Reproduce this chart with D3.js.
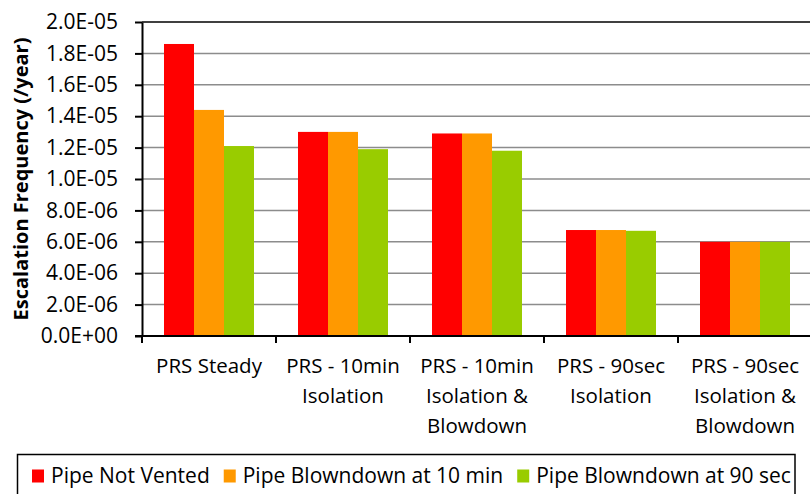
<!DOCTYPE html>
<html>
<head>
<meta charset="utf-8">
<script src="https://cdn.jsdelivr.net/npm/d3@7"></script>
<style>
  html, body { margin: 0; padding: 0; background: #fff; }
  svg { display: block; font-family: "Open Sans", sans-serif; }
</style>
</head>
<body>
<svg id="chart" width="810" height="494"></svg>
<script>
// Escalation frequency per scenario, three pipe venting cases
const categories = [
  ["PRS Steady"],
  ["PRS - 10min", "Isolation"],
  ["PRS - 10min", "Isolation &", "Blowdown"],
  ["PRS - 90sec", "Isolation"],
  ["PRS - 90sec", "Isolation &", "Blowdown"]
];
const seriesNames = ["Pipe Not Vented", "Pipe Blowndown at 10 min", "Pipe Blowndown at 90 sec"];
const notVented    = [1.86e-5, 1.30e-5, 1.29e-5, 6.75e-6, 6.0e-6];
const blowdown10m  = [1.44e-5, 1.30e-5, 1.29e-5, 6.75e-6, 6.0e-6];
const blowdown90s  = [1.21e-5, 1.19e-5, 1.18e-5, 6.70e-6, 6.0e-6];
const yTicks = [0, 2e-6, 4e-6, 6e-6, 8e-6, 1e-5, 1.2e-5, 1.4e-5, 1.6e-5, 1.8e-5, 2e-5];
const yTitle = "Escalation Frequency (/year)";
const colors = ["#ff0000", "#ff9900", "#99cc00"];

const seriesValues = [notVented, blowdown10m, blowdown90s];
const catKeys = categories.map(c => c.join(" "));

const svg = d3.select("#chart");
const plot = { left: 142, right: 812, top: 22, bottom: 336 };

const x0 = d3.scaleBand().domain(catKeys).range([plot.left, plot.right]).padding(0);
const groupWidth = 90;
const x1 = d3.scaleBand().domain(d3.range(seriesNames.length)).range([0, groupWidth]).padding(0);
const groupOffset = (x0.bandwidth() - groupWidth) / 2;
const y = d3.scaleLinear().domain([0, 2e-5]).range([plot.bottom, plot.top]);

// "2.0E-05" style labels
const expFmt = v => {
  const [m, e] = v.toExponential(1).split("e");
  const sign = e[0] === "-" ? "-" : "+";
  const digits = String(Math.abs(+e)).padStart(2, "0");
  return m + "E" + sign + digits;
};

// horizontal gridlines
svg.append("g")
  .selectAll("line")
  .data(yTicks.filter(t => t > 0 && t < 2e-5))
  .join("line")
  .attr("x1", plot.left).attr("x2", plot.right)
  .attr("y1", d => y(d)).attr("y2", d => y(d))
  .attr("stroke", "#8c8c8c").attr("stroke-width", 1.5);

// top border of the plot area
svg.append("line")
  .attr("x1", plot.left).attr("x2", plot.right)
  .attr("y1", y(2e-5)).attr("y2", y(2e-5))
  .attr("stroke", "#000").attr("stroke-width", 1.5);

// bars
const groups = svg.append("g")
  .selectAll("g")
  .data(catKeys)
  .join("g")
  .attr("transform", d => `translate(${x0(d) + groupOffset},0)`);

groups.selectAll("rect")
  .data((d, i) => seriesValues.map((s, j) => ({ j, v: s[i] })))
  .join("rect")
  .attr("x", d => x1(d.j))
  .attr("width", x1.bandwidth())
  .attr("y", d => y(d.v))
  .attr("height", d => y(0) - y(d.v))
  .attr("fill", d => colors[d.j]);

// y axis
const yAxis = svg.append("g")
  .attr("transform", `translate(${plot.left},0)`)
  .call(d3.axisLeft(y).tickValues(yTicks).tickFormat(expFmt).tickSizeInner(7).tickSizeOuter(0).tickPadding(17));
yAxis.select(".domain").attr("stroke", "#000").attr("stroke-width", 2);
yAxis.selectAll(".tick line").attr("stroke", "#000").attr("stroke-width", 2);
yAxis.selectAll(".tick text")
  .attr("font-family", "Open Sans, sans-serif")
  .attr("font-size", 21)
  .attr("fill", "#000");

// x axis baseline and category boundary ticks
const bounds = catKeys.map(k => x0(k)).concat([plot.right]);
svg.append("line")
  .attr("x1", plot.left - 7).attr("x2", plot.right)
  .attr("y1", plot.bottom).attr("y2", plot.bottom)
  .attr("stroke", "#000").attr("stroke-width", 2);
svg.append("g")
  .selectAll("line")
  .data(bounds)
  .join("line")
  .attr("x1", d => d).attr("x2", d => d)
  .attr("y1", plot.bottom).attr("y2", plot.bottom + 7)
  .attr("stroke", "#000").attr("stroke-width", 2);

// category labels
const catLabels = svg.append("g")
  .selectAll("text")
  .data(categories)
  .join("text")
  .attr("text-anchor", "middle")
  .attr("font-size", 20.5)
  .attr("fill", "#000")
  .attr("transform", (d, i) => `translate(${x0(catKeys[i]) + x0.bandwidth() / 2},373)`);
catLabels.selectAll("tspan")
  .data(d => d)
  .join("tspan")
  .attr("x", 0)
  .attr("y", (d, i) => i * 30)
  .text(d => d);

// y axis title
svg.append("text")
  .attr("transform", `translate(28,${(plot.top + plot.bottom) / 2}) rotate(-90)`)
  .attr("text-anchor", "middle")
  .attr("font-weight", "bold")
  .attr("font-size", 20)
  .attr("fill", "#000")
  .text(yTitle);

// legend
const legend = svg.append("g");
legend.append("rect")
  .attr("x", 17.5).attr("y", 454.5)
  .attr("width", 777.5).attr("height", 60)
  .attr("fill", "#fff").attr("stroke", "#000").attr("stroke-width", 1.5);
let lx = 32;
seriesNames.forEach((name, i) => {
  legend.append("rect")
    .attr("x", lx).attr("y", 469.5)
    .attr("width", 12).attr("height", 13)
    .attr("fill", colors[i]);
  const t = legend.append("text")
    .attr("x", lx + 19).attr("y", 482.5)
    .attr("font-size", 21)
    .attr("fill", "#000")
    .text(name);
  lx = lx + 19 + t.node().getComputedTextLength() + 14;
});
</script>
</body>
</html>
